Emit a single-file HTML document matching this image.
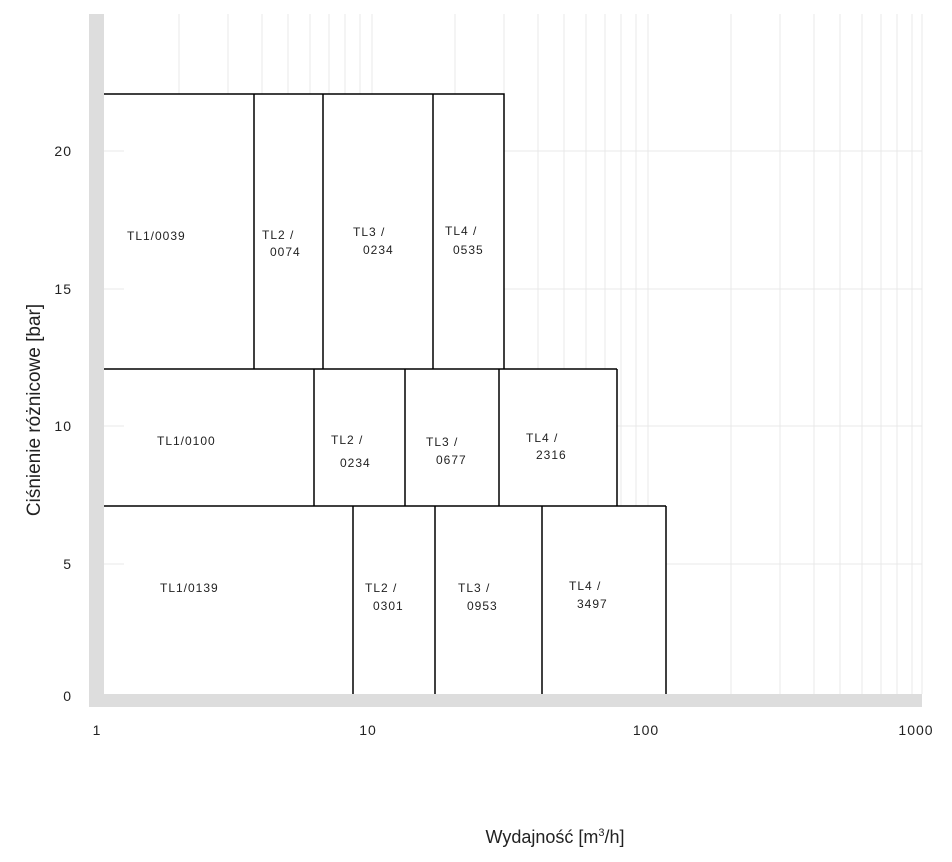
<!DOCTYPE html>
<html><head><meta charset="utf-8"><style>body{margin:0;background:#fff}svg{display:block}</style></head><body>
<svg width="952" height="862" xmlns="http://www.w3.org/2000/svg" font-family="Liberation Sans, DejaVu Sans, sans-serif">
<g stroke="#e8e8e8" stroke-width="1">
<line x1="179" y1="14" x2="179" y2="694"/><line x1="228" y1="14" x2="228" y2="694"/><line x1="262" y1="14" x2="262" y2="694"/><line x1="288" y1="14" x2="288" y2="694"/><line x1="310" y1="14" x2="310" y2="694"/><line x1="329" y1="14" x2="329" y2="694"/><line x1="345" y1="14" x2="345" y2="694"/><line x1="360" y1="14" x2="360" y2="694"/><line x1="372" y1="14" x2="372" y2="694"/>
<line x1="455" y1="14" x2="455" y2="694"/><line x1="504" y1="14" x2="504" y2="694"/><line x1="538" y1="14" x2="538" y2="694"/><line x1="564" y1="14" x2="564" y2="694"/><line x1="586" y1="14" x2="586" y2="694"/><line x1="605" y1="14" x2="605" y2="694"/><line x1="621" y1="14" x2="621" y2="694"/><line x1="636" y1="14" x2="636" y2="694"/><line x1="648" y1="14" x2="648" y2="694"/>
<line x1="731" y1="14" x2="731" y2="694"/><line x1="780" y1="14" x2="780" y2="694"/><line x1="814" y1="14" x2="814" y2="694"/><line x1="840" y1="14" x2="840" y2="694"/><line x1="862" y1="14" x2="862" y2="694"/><line x1="881" y1="14" x2="881" y2="694"/><line x1="897" y1="14" x2="897" y2="694"/><line x1="912" y1="14" x2="912" y2="694"/><line x1="922" y1="14" x2="922" y2="694"/>
<line x1="104" y1="151" x2="922" y2="151"/><line x1="104" y1="289" x2="922" y2="289"/><line x1="104" y1="426" x2="922" y2="426"/><line x1="104" y1="564" x2="922" y2="564"/>
</g>
<g fill="#fff" stroke="none">
<rect x="104" y="94" width="400" height="275"/>
<rect x="104" y="369" width="513" height="137"/>
<rect x="104" y="506" width="562" height="188"/>
</g>
<g stroke="#e8e8e8" stroke-width="1">
<line x1="104" y1="151" x2="124" y2="151"/><line x1="104" y1="289" x2="124" y2="289"/><line x1="104" y1="426" x2="124" y2="426"/><line x1="104" y1="564" x2="124" y2="564"/>
</g>
<rect x="89" y="14" width="15" height="693" fill="#dddddd"/>
<rect x="89" y="694" width="833" height="13" fill="#dddddd"/>
<g stroke="#000" stroke-width="1.5" fill="none">
<polyline points="104,94 504,94 504,369"/>
<line x1="104" y1="369" x2="617" y2="369"/><line x1="617" y1="369" x2="617" y2="506"/>
<line x1="104" y1="506" x2="666" y2="506"/><line x1="666" y1="506" x2="666" y2="694"/>
<line x1="254" y1="94" x2="254" y2="369"/><line x1="323" y1="94" x2="323" y2="369"/><line x1="433" y1="94" x2="433" y2="369"/>
<line x1="314" y1="369" x2="314" y2="506"/><line x1="405" y1="369" x2="405" y2="506"/><line x1="499" y1="369" x2="499" y2="506"/>
<line x1="353" y1="506" x2="353" y2="694"/><line x1="435" y1="506" x2="435" y2="694"/><line x1="542" y1="506" x2="542" y2="694"/>
</g>
<g font-size="12" fill="#222" letter-spacing="1">
<text x="127" y="240">TL1/0039</text>
<text x="262" y="239">TL2 /</text><text x="270" y="256">0074</text>
<text x="353" y="236">TL3 /</text><text x="363" y="254">0234</text>
<text x="445" y="235">TL4 /</text><text x="453" y="254">0535</text>
<text x="157" y="445">TL1/0100</text>
<text x="331" y="444">TL2 /</text><text x="340" y="467">0234</text>
<text x="426" y="446">TL3 /</text><text x="436" y="464">0677</text>
<text x="526" y="442">TL4 /</text><text x="536" y="459">2316</text>
<text x="160" y="592">TL1/0139</text>
<text x="365" y="592">TL2 /</text><text x="373" y="610">0301</text>
<text x="458" y="592">TL3 /</text><text x="467" y="610">0953</text>
<text x="569" y="590">TL4 /</text><text x="577" y="608">3497</text>
</g>
<g font-size="14" fill="#222" letter-spacing="1">
<text x="72" y="156" text-anchor="end">20</text>
<text x="72" y="294" text-anchor="end">15</text>
<text x="72" y="431" text-anchor="end">10</text>
<text x="72" y="569" text-anchor="end">5</text>
<text x="72" y="701" text-anchor="end">0</text>
<text x="97" y="735" text-anchor="middle">1</text>
<text x="368" y="735" text-anchor="middle">10</text>
<text x="646" y="735" text-anchor="middle">100</text>
<text x="916" y="735" text-anchor="middle">1000</text>
</g>
<text x="555" y="843" font-size="18" fill="#222" text-anchor="middle">Wydajność [m<tspan font-size="11" dy="-7">3</tspan><tspan dy="7">/h]</tspan></text>
<text transform="translate(40,410) rotate(-90)" font-size="19" fill="#222" text-anchor="middle">Ciśnienie różnicowe [bar]</text>
</svg>
</body></html>
